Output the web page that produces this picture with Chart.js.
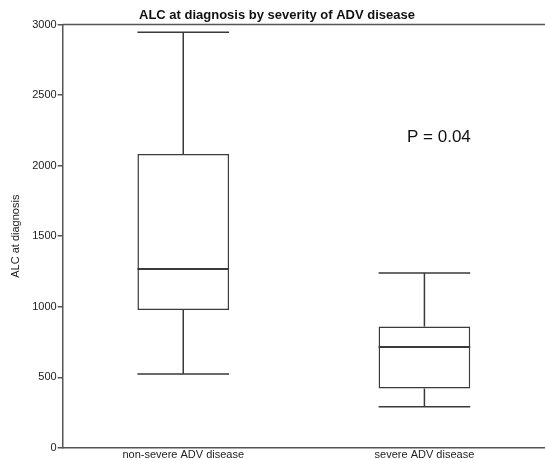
<!DOCTYPE html>
<html>
<head>
<meta charset="utf-8">
<script src="https://cdn.jsdelivr.net/npm/chart.js@4.4.0/dist/chart.umd.min.js"></script>
<style>
  html, body { margin: 0; padding: 0; background: #fff; }
  #wrap { width: 545px; height: 460px; }
</style>
</head>
<body>
<div id="wrap"><canvas id="grafica"></canvas></div>
<script>
// datos del boxplot
const categorias = ['non-severe ADV disease', 'severe ADV disease'];
const minimos = [523, 291];
const q1 = [977, 421];
const medianas = [1267, 714];
const q3 = [2083, 860];
const maximos = [2945, 1239];
const ticksY = [0, 500, 1000, 1500, 2000, 2500, 3000];
const textoP = 'P = 0.04';

const colorLinea = '#3a3a3a';
const fuente = "'Liberation Sans', Arial, sans-serif";

// bigotes, mediana, borde superior y texto P
const boxplotPlugin = {
    id: 'boxplotExtra',
    afterDatasetsDraw(chart) {
        const { ctx, scales: { x, y }, chartArea } = chart;
        const meta = chart.getDatasetMeta(0);
        ctx.save();
        ctx.strokeStyle = colorLinea;
        ctx.lineWidth = 1.5;
        meta.data.forEach((bar, i) => {
            const cx = x.getPixelForValue(i);
            const half = bar.width / 2;
            const yMin = y.getPixelForValue(minimos[i]);
            const yMax = y.getPixelForValue(maximos[i]);
            const yQ1 = y.getPixelForValue(q1[i]);
            const yQ3 = y.getPixelForValue(q3[i]);
            const yMed = y.getPixelForValue(medianas[i]);
            ctx.beginPath();
            ctx.moveTo(cx, yQ3); ctx.lineTo(cx, yMax);
            ctx.moveTo(cx - half, yMax); ctx.lineTo(cx + half, yMax);
            ctx.moveTo(cx, yQ1); ctx.lineTo(cx, yMin);
            ctx.moveTo(cx - half, yMin); ctx.lineTo(cx + half, yMin);
            ctx.stroke();
            ctx.lineWidth = 2;
            ctx.beginPath();
            ctx.moveTo(cx - half, yMed); ctx.lineTo(cx + half, yMed);
            ctx.stroke();
            ctx.lineWidth = 1.5;
        });
        // linea superior del marco
        ctx.strokeStyle = '#555';
        ctx.beginPath();
        ctx.moveTo(chartArea.left, chartArea.top);
        ctx.lineTo(chartArea.right, chartArea.top);
        ctx.stroke();
        // texto del valor P
        ctx.fillStyle = '#111';
        ctx.font = '17px ' + fuente;
        ctx.textAlign = 'center';
        ctx.textBaseline = 'middle';
        ctx.fillText(textoP, x.getPixelForValue(1.06), y.getPixelForValue(2200));
        ctx.restore();
    }
};

new Chart(document.getElementById('grafica'), {
    type: 'bar',
    data: {
        labels: categorias,
        datasets: [{
            data: categorias.map((c, i) => [q1[i], q3[i]]),
            backgroundColor: '#ffffff',
            borderColor: colorLinea,
            borderWidth: 1.5,
            borderSkipped: false,
            barPercentage: 0.38,
            categoryPercentage: 1
        }]
    },
    options: {
        responsive: true,
        maintainAspectRatio: false,
        animation: false,
        layout: { padding: { left: 9, right: 0, top: 0, bottom: -3 } },
        plugins: {
            legend: { display: false },
            tooltip: { enabled: false },
            title: {
                display: true,
                text: 'ALC at diagnosis by severity of ADV disease',
                color: '#111',
                font: { family: fuente, size: 13, weight: 'bold' },
                padding: { top: 8, bottom: 1 }
            }
        },
        scales: {
            x: {
                grid: { display: false, drawTicks: false },
                border: { display: true, color: '#555', width: 1.5 },
                ticks: { color: '#222', font: { family: fuente, size: 11 }, padding: 1, maxRotation: 0 }
            },
            y: {
                min: 0,
                max: 3000,
                afterBuildTicks: axis => { axis.ticks = ticksY.map(v => ({ value: v })); },
                grid: { display: true, drawOnChartArea: false, drawTicks: true, tickLength: 5, color: '#555', lineWidth: 1.5 },
                border: { display: true, color: '#555', width: 1.5 },
                ticks: { color: '#222', font: { family: fuente, size: 11 }, padding: 1, callback: v => String(v) },
                title: {
                    display: true,
                    text: 'ALC at diagnosis',
                    color: '#222',
                    font: { family: fuente, size: 11 },
                    padding: { top: 0, bottom: 9 }
                }
            }
        }
    },
    plugins: [boxplotPlugin]
});
</script>
</body>
</html>
